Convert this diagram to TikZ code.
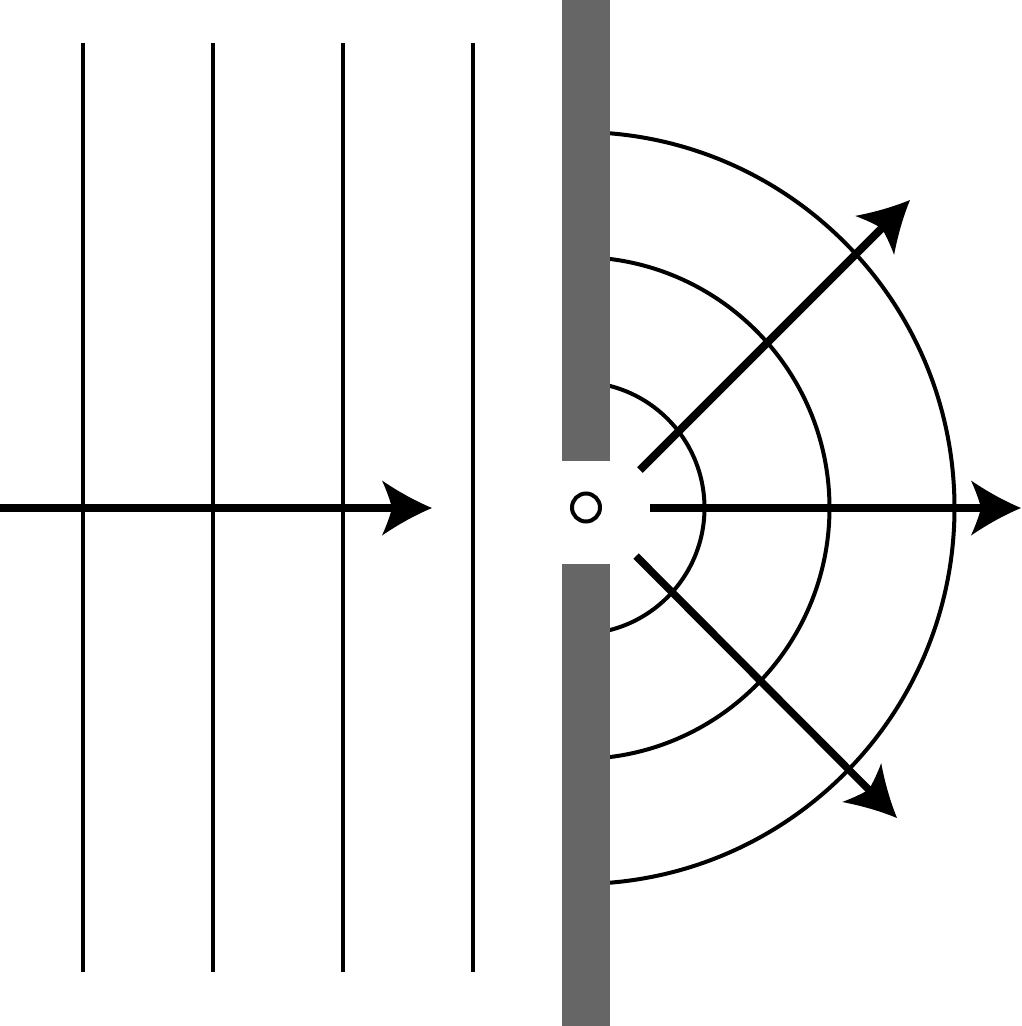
\documentclass[tikz,border=0pt]{standalone}
\usepackage{tikz}
\usetikzlibrary{arrows.meta}
\definecolor{wallgray}{HTML}{666666}
\pgfdeclarearrow{
  name=wavetip,
  setup code={
    \pgfarrowssettipend{0pt}
    \pgfarrowssetlineend{-38pt}
    \pgfarrowssetbackend{-50pt}
    \pgfarrowssetvisualbackend{-40pt}
  },
  drawing code={
    \pgfpathmoveto{\pgfqpoint{0pt}{0pt}}
    \pgfpathquadraticcurveto{\pgfqpoint{-25pt}{10.5pt}}{\pgfqpoint{-50pt}{27.5pt}}
    \pgfpathquadraticcurveto{\pgfqpoint{-43pt}{12pt}}{\pgfqpoint{-40pt}{0pt}}
    \pgfpathquadraticcurveto{\pgfqpoint{-43pt}{-12pt}}{\pgfqpoint{-50pt}{-27.5pt}}
    \pgfpathquadraticcurveto{\pgfqpoint{-25pt}{-10.5pt}}{\pgfqpoint{0pt}{0pt}}
    \pgfpathclose
    \pgfusepathqfill
  }
}
\tikzset{
  wave/.style={line width=4pt},
  ray/.style={line width=7.5pt, -{wavetip}},
}

\begin{document}
\begin{tikzpicture}[x=1pt, y=-1pt]
      \useasboundingbox (0, 0) rectangle (1021, 1026);

      \coordinate (source) at (578.5, 508);

      % incoming plane waves
      \foreach \i in {0, ..., 3}
      {
        \coordinate (top\i) at (83 + \i*130, 43);
        \coordinate (bottom\i) at (83 + \i*130, 972);
        \draw [wave] (top\i) -- (bottom\i);
      }

      % outgoing circular waves
      \begin{scope}
        \clip (610, 0) rectangle (1021, 1026);
        \foreach \r in {126, 251, 376}
        {
          \draw [wave] (source) circle (\r pt);
        }
      \end{scope}

      % screen with slit
      \fill [wallgray] (562, 0) rectangle (610, 461);
      \fill [wallgray] (562, 564) rectangle (610, 1026);
      \node (hole) at (586, 507.5) [circle, draw, line width=4pt, inner sep=0pt, minimum size=28pt] {};

      \coordinate (in0) at (0, 508);
      \coordinate (in1) at (432, 508);
      \coordinate (up0) at (640, 470);
      \coordinate (up1) at (910, 200);
      \coordinate (mid0) at (650, 508);
      \coordinate (mid1) at (1021, 508);
      \coordinate (down0) at (636, 556);
      \coordinate (down1) at (897, 818);

      \draw [ray] (in0) -- (in1);
      \draw [ray, line width=8pt] (up0) -- (up1);
      \draw [ray] (mid0) -- (mid1);
      \draw [ray] (down0) -- (down1);
    \end{tikzpicture}
\end{document}
